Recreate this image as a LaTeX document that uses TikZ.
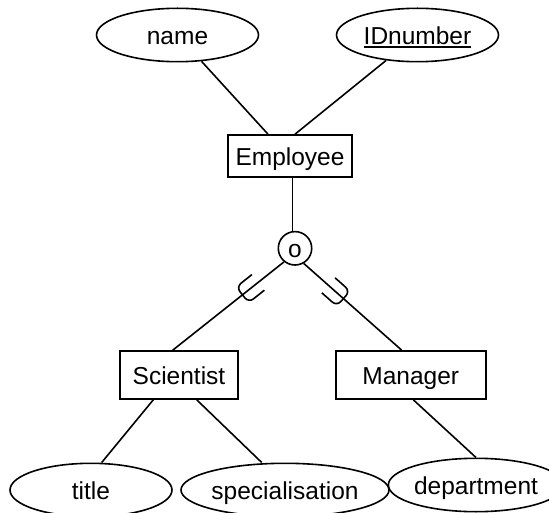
\documentclass[tikz,border=0pt]{standalone}
\usepackage{fontspec}
\setmainfont{Liberation Sans}
\usetikzlibrary{shapes.geometric,decorations.markings}
\newcommand\ulword[1]{\setbox0\hbox{#1}\rlap{\rule[-3.5pt]{\wd0}{1.8pt}}\box0}
\begin{document}
\begin{tikzpicture}[x=1pt,y=-1pt,
  ln/.style={line width=1.6pt},
  lbl/.style={font=\fontsize{24.5}{28}\selectfont,text height=21pt,text depth=2pt},
  attr/.style={ellipse,draw,ln,lbl,inner sep=0pt,minimum width=162pt,minimum height=53.4pt},
  ent/.style={rectangle,draw,ln,lbl,inner sep=0pt},
  cup/.style={postaction={decorate},decoration={markings,mark=at position 49pt with {\draw[line width=1.6pt,rounded corners=6pt] (-16pt,10pt) -- (4pt,10pt) -- (4pt,-10pt) -- (-16pt,-10pt);}}}
]
\useasboundingbox (0,0) rectangle (549,513);
\node[attr] (name) at (177.5,35) {name};
\node[attr] (idn) at (417.5,35) {\ulword{IDnumber}};
\node[ent,minimum width=124pt,minimum height=42pt] (emp) at (290,156) {Employee};
\node[circle,draw,ln,lbl,minimum size=33.4pt,inner sep=0pt] (circ) at (295,248.3) {o};
\node[ent,minimum width=118pt,minimum height=48pt] (sci) at (179,375) {Scientist};
\node[ent,minimum width=150pt,minimum height=48pt] (mgr) at (410.7,375) {Manager};
\node[attr] (title) at (91,490) {title};
\node[attr,minimum width=177pt] (spec) at (285,490) {specialisation};
\node[attr] (dept) at (476,485) {department};
\draw[ln] (name) -- ([xshift=-22pt]emp.north);
\draw[ln] (idn) -- ([xshift=5pt]emp.north);
\coordinate (v) at ([xshift=2.5pt]emp.south);
\draw[ln] (v) -- (v |- circ.north);
\draw[ln,cup] (circ.231) -- ([xshift=-6.3pt]sci.north);
\draw[ln,cup] (circ.300) -- ([xshift=-9pt]mgr.north);
\draw[ln] ([xshift=-25.7pt]sci.south) -- ([xshift=10.7pt]title.north);
\draw[ln] ([xshift=17.7pt]sci.south) -- ([xshift=-23.3pt]spec.north);
\draw[ln] ([xshift=2.6pt]mgr.south) -- (dept.north);
\end{tikzpicture}
\end{document}
